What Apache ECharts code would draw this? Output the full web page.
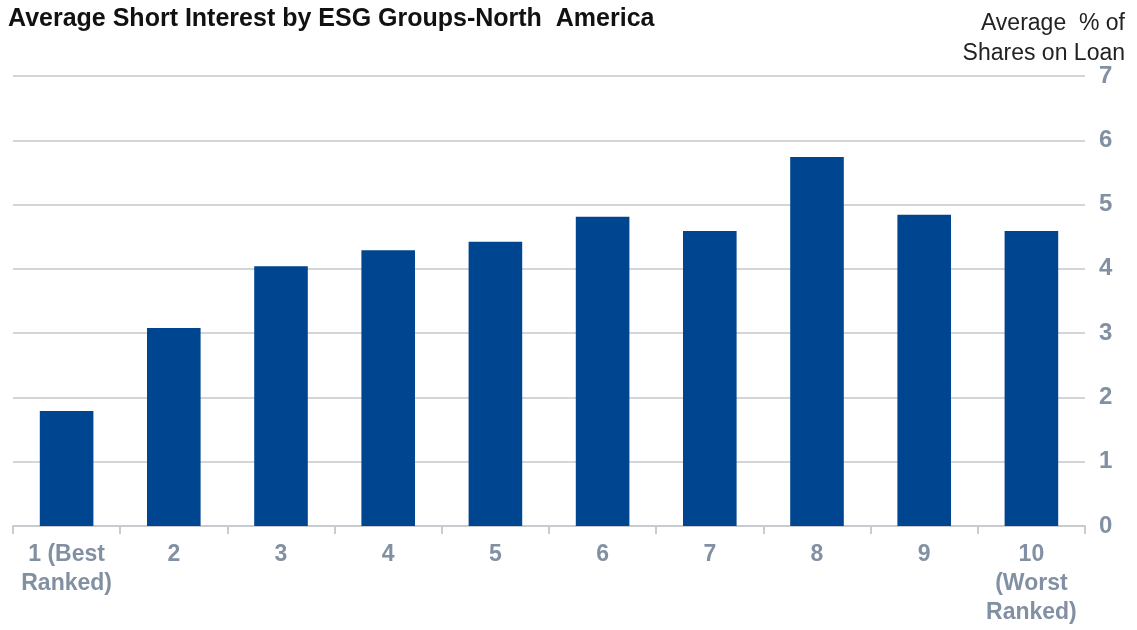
<!DOCTYPE html>
<html>
<head>
<meta charset="utf-8">
<script src="https://cdn.jsdelivr.net/npm/echarts@6/dist/echarts.min.js"></script>
<style>
  html, body { margin: 0; padding: 0; background: #fff; }
  #chart { width: 1137px; height: 630px; }
</style>
</head>
<body>
<div id="chart"></div>
<script>
// ESG rank groups
const categories = ['1 (Best\nRanked)', '2', '3', '4', '5', '6', '7', '8', '9', '10\n(Worst\nRanked)'];
// average % of shares on loan
const shortInterest = [1.79, 3.08, 4.04, 4.29, 4.42, 4.81, 4.59, 5.74, 4.84, 4.59];
const yTicks = [0, 1, 2, 3, 4, 5, 6, 7];

const labelColor = '#8290a3';
const font = '"Liberation Sans", Arial';
const chart = echarts.init(document.getElementById('chart'));

const option = {
  animation: false,
  title: [{
    text: 'Average Short Interest by ESG Groups-North  America',
    left: 3,
    top: 2,
    textStyle: {
      fontFamily: '"Liberation Sans Narrow", "Liberation Sans", Arial',
      fontSize: 25,
      fontWeight: 'bold',
      color: '#111'
    }
  }, {
    // y axis title, sits top right above the 7 label
    text: 'Average  % of\nShares on Loan',
    left: 'right',
    top: 4,
    padding: [5, 12, 5, 5],
    textStyle: {
      fontFamily: font,
      fontSize: 23,
      fontWeight: 'normal',
      lineHeight: 30,
      color: '#222'
    }
  }],
  grid: {
    left: 13,
    right: 52,
    top: 76,
    bottom: 104
  },
  xAxis: {
    type: 'category',
    data: categories,
    axisLine: { lineStyle: { color: '#c8cbcf', width: 2 } },
    axisTick: { show: true, length: 8, lineStyle: { color: '#c8cbcf', width: 2 } },
    axisLabel: {
      color: labelColor,
      fontFamily: font,
      fontSize: 23,
      fontWeight: 'bold',
      lineHeight: 29,
      margin: 14,
      interval: 0
    }
  },
  yAxis: {
    type: 'value',
    position: 'right',
    min: yTicks[0],
    max: yTicks[yTicks.length - 1],
    interval: 1,
    axisLine: { show: false },
    axisTick: { show: false },
    splitLine: { lineStyle: { color: '#d3d6d8', width: 2 } },
    axisLabel: {
      color: labelColor,
      fontFamily: font,
      fontSize: 24,
      fontWeight: 'bold',
      margin: 14
    }
  },
  series: [{
    type: 'bar',
    data: shortInterest,
    barWidth: '50%',
    itemStyle: { color: '#00458f' }
  }]
};

chart.setOption(option);
</script>
</body>
</html>
